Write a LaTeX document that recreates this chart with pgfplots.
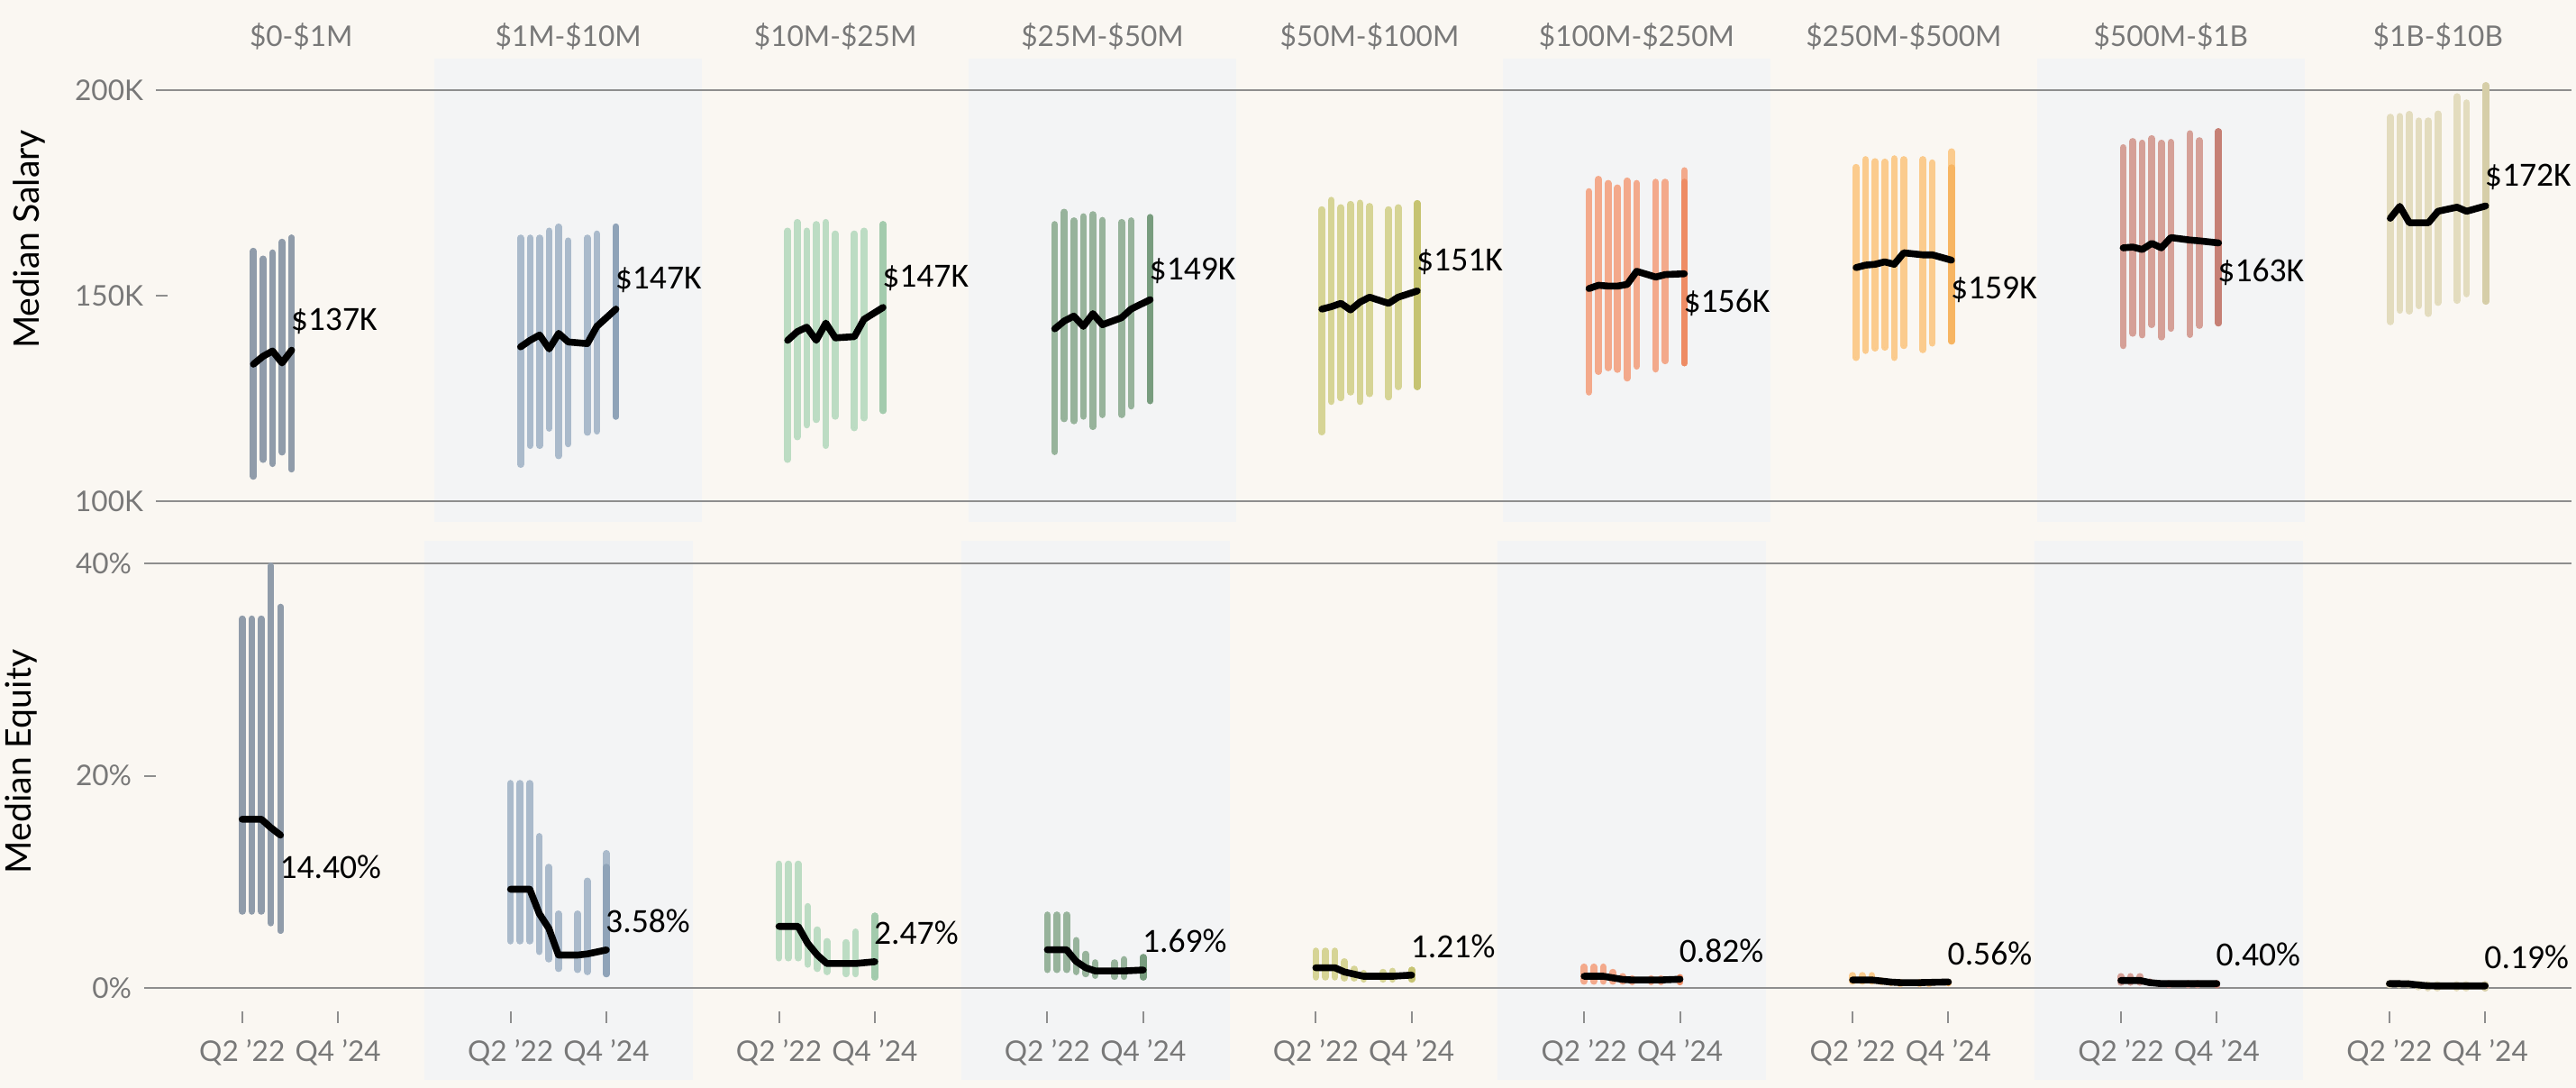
\documentclass[border=0pt]{standalone}
\usepackage{fontspec}
\setmainfont{Lato}
\newfontfamily\carl{Carlito}
\usepackage{pgfplots}
\usepackage{pgfplotstable}
\pgfplotsset{compat=1.18}

\definecolor{bgc}{HTML}{FAF7F2}
\definecolor{bandc}{HTML}{F3F4F5}
\definecolor{gridg}{HTML}{8E8E8E}
\definecolor{labg}{HTML}{787878}
\definecolor{cA}{HTML}{909CAA}
\definecolor{cB}{HTML}{AABACB}\definecolor{dB}{HTML}{8FA3B8}
\definecolor{cC}{HTML}{BCDCC3}\definecolor{dC}{HTML}{A3CBAD}
\definecolor{cD}{HTML}{97B39B}\definecolor{dD}{HTML}{789C7E}
\definecolor{cE}{HTML}{D6D495}\definecolor{dE}{HTML}{C6C371}
\definecolor{cF}{HTML}{F3A98B}\definecolor{dF}{HTML}{EE8C64}
\definecolor{cG}{HTML}{FBCB8D}\definecolor{dG}{HTML}{F7B562}
\definecolor{cH}{HTML}{D5A097}\definecolor{dH}{HTML}{C68075}
\definecolor{cI}{HTML}{E3DCBE}\definecolor{dI}{HTML}{D6CEA8}

% ---------- Median salary (K) : quarter, low, high, median ----------
\pgfplotstableread{
q lo hi med
0 105.3 161.7 133.4
1 109.4 159.8 135.3
2 108.4 161.3 136.6
3 111.2 163.9 133.7
4 107.1 164.9 136.8
}\sA
\pgfplotstableread{
q lo hi med
0 108.2 164.9 137.6
1 112.8 164.9 139.2
2 112.8 164.9 140.5
3 117.0 166.6 137.1
4 110.3 167.6 140.9
5 113.2 164.2 138.8
7 116.0 164.9 138.4
8 116.3 165.9 142.6
10 119.9 167.6 146.8
}\sB
\pgfplotstableread{
q lo hi med
0 109.4 166.6 139.2
1 114.9 168.7 141.3
2 117.8 166.6 142.4
3 119.1 168.2 139.2
4 112.8 168.7 143.4
5 119.9 165.9 139.8
7 117.1 165.9 140.1
8 119.5 166.6 144.3
10 121.3 168.2 147.2
}\sC
\pgfplotstableread{
q lo hi med
0 111.3 168.2 142.0
1 119.3 171.2 143.9
2 118.8 169.1 145.1
3 119.9 170.1 142.6
4 117.4 170.6 145.7
5 120.3 169.2 143.0
7 120.3 168.7 144.7
8 122.4 169.1 146.8
10 123.7 169.9 149.1
}\sD
\pgfplotstableread{
q lo hi med
0 116.1 171.8 146.8
1 123.5 174.1 147.4
2 124.4 172.3 148.2
3 125.8 173.1 146.6
4 123.5 173.4 148.5
5 125.4 172.6 149.7
7 124.6 171.8 148.2
8 127.1 172.3 149.7
10 127.1 173.3 151.2
}\sE
\pgfplotstableread{
q lo hi med
0 125.8 176.2 151.8
1 130.8 179.2 152.6
2 131.7 178.2 152.4
3 131.3 177.1 152.4
4 129.2 178.8 152.8
5 132.1 178.2 156.0
7 131.4 178.5 154.6
8 133.4 178.5 155.2
10 132.9 181.3 155.4
}\sF
\pgfplotstableread{
q lo hi med
0 134.2 182.1 156.9
1 135.9 184.0 157.5
2 136.5 183.5 157.7
3 136.7 183.4 158.3
4 134.2 184.2 157.7
5 137.1 184.0 160.5
7 136.1 184.0 160.0
8 137.7 183.2 160.0
10 138.2 185.9 158.7
}\sG
\pgfplotstableread{
q lo hi med
0 137.1 186.9 161.7
1 140.1 188.4 161.9
2 139.7 188.0 161.3
3 142.2 189.1 162.8
4 139.2 188.0 161.7
5 141.3 188.2 164.2
7 139.8 190.3 163.6
8 142.0 188.6 163.4
10 142.6 190.8 162.9
}\sH
\pgfplotstableread{
q lo hi med
0 142.9 194.3 168.9
1 145.7 194.5 171.8
2 145.5 195.0 167.8
3 146.8 193.4 167.8
4 144.9 193.4 167.8
5 147.6 195.1 170.6
7 148.1 199.3 171.6
8 149.7 197.8 170.6
10 147.9 202.0 171.9
}\sI

% ---------- Median equity (%) ----------
\pgfplotstableread{
q lo hi med
0 6.9 35.1 15.9
1 6.9 35.1 15.9
2 6.9 35.1 15.9
3 5.8 40.1 15.1
4 5.1 36.2 14.4
}\eA
\pgfplotstableread{
q lo hi med
0 4.1 19.6 9.3
1 4.1 19.6 9.3
2 4.1 19.6 9.3
3 3.1 14.6 7.0
4 2.4 11.7 5.6
5 1.5 7.3 3.1
7 1.4 7.3 3.1
8 1.2 10.4 3.2
10 1.0 13.0 3.58
}\eB
\pgfplotstableread{
q lo hi med
0 2.5 12.0 5.8
1 2.5 12.0 5.8
2 2.5 12.0 5.8
3 1.9 8.0 4.2
4 1.5 5.8 3.1
5 1.2 4.7 2.3
7 1.0 4.6 2.3
8 1.0 5.6 2.3
10 0.7 7.1 2.47
}\eC
\pgfplotstableread{
q lo hi med
0 1.4 7.2 3.6
1 1.4 7.2 3.6
2 1.4 7.2 3.6
3 1.2 4.8 2.5
4 1.0 3.5 1.9
5 0.85 2.7 1.6
7 0.75 2.7 1.6
8 0.75 3.0 1.6
10 0.7 3.2 1.69
}\eD
\pgfplotstableread{
q lo hi med
0 0.7 3.8 1.9
1 0.7 3.8 1.9
2 0.7 3.8 1.9
3 0.6 2.8 1.5
4 0.6 2.1 1.3
5 0.5 1.7 1.1
7 0.5 1.8 1.1
8 0.5 1.9 1.1
10 0.5 2.0 1.21
}\eE
\pgfplotstableread{
q lo hi med
0 0.3 2.3 1.1
1 0.3 2.3 1.1
2 0.3 2.3 1.1
3 0.3 1.8 0.95
4 0.3 1.4 0.8
5 0.25 1.2 0.75
7 0.25 1.2 0.75
8 0.25 1.2 0.75
10 0.25 1.3 0.82
}\eF
\pgfplotstableread{
q lo hi med
0 0.3 1.5 0.75
1 0.3 1.5 0.75
2 0.3 1.5 0.75
3 0.25 1.0 0.65
4 0.2 0.8 0.55
5 0.2 0.7 0.5
7 0.2 0.7 0.5
8 0.2 0.7 0.52
10 0.2 0.8 0.56
}\eG
\pgfplotstableread{
q lo hi med
0 0.2 1.4 0.7
1 0.2 1.4 0.7
2 0.2 1.4 0.7
3 0.15 0.9 0.5
4 0.1 0.7 0.42
5 0.1 0.6 0.4
7 0.1 0.6 0.4
8 0.1 0.6 0.4
10 0.1 0.6 0.40
}\eH
\pgfplotstableread{
q lo hi med
0 0.1 0.6 0.4
1 0.1 0.6 0.4
2 0.1 0.6 0.38
3 0.05 0.4 0.28
4 0.0 0.3 0.2
5 0.0 0.3 0.19
7 0.0 0.3 0.19
8 0.0 0.3 0.19
10 0.0 0.3 0.19
}\eI

% #1 table, #2 x offset, #3 bar colour, #4 last-bar colour, #5 last q, #6/#7 last-bar range, #8 cap correction
\newcommand{\panel}[8]{%
 \addplot[only marks, mark=*, mark size=0pt, mark options={draw=none, fill=none}, forget plot,
   error bars/.cd, y dir=plus, y explicit, error mark=none,
   error bar style={line width=1.9pt, line cap=round, draw=#3}]
   table[x expr=\thisrow{q}+#2, y expr=\thisrow{lo}+#8, y error expr=\thisrow{hi}-\thisrow{lo}-2*#8] {#1};
 \addplot[draw=#4, line width=1.9pt, line cap=round, forget plot]
   table[row sep=\\, x expr=\thisrow{q}+#2, y expr=\thisrow{v}+\thisrow{s}*#8] {q v s\\ #5 #6 1\\ #5 #7 -1\\};
 \addplot[black, line width=1.9pt, line join=round, line cap=round, forget plot]
   table[x expr=\thisrow{q}+#2, y=med] {#1};
}

\pgfplotsset{
 panel/.style={
   scale only axis, anchor=south west,
   xmin=-9, xmax=243,
   axis line style={draw=none},
   clip=false,
   tick align=outside,
   ytick pos=left,
   major tick length=3.2pt,
   tick style={draw=gridg, line width=0.5pt},
   tick label style={font=\fontsize{7.9}{9}\selectfont, text=labg},
   major grid style={draw=gridg, line width=0.55pt},
 },
}
\tikzset{
 vlab/.style={font=\carl\fontsize{9.4}{11}\selectfont, anchor=west, inner sep=0pt, xshift=-0.4pt, text=black},
 hlab/.style={font=\fontsize{7.9}{9}\selectfont, text=labg, anchor=base, yshift=3.45pt},
}

\begin{document}
\begin{tikzpicture}
\fill[bgc] (0,0) rectangle (714.75pt,301.75pt);
\foreach \k in {1,3,5,7} {
  \fill[bandc] ({46.5pt+\k*74.111pt},157pt) rectangle ({46.5pt+(\k+1)*74.111pt},285.5pt);
  \fill[bandc] ({43.25pt+\k*74.472pt},2.25pt) rectangle ({43.25pt+(\k+1)*74.472pt},151.75pt);
}

% ===== Median Salary =====
\begin{axis}[panel, at={(46.5pt,157pt)}, width=667pt, height=128.5pt,
  ymin=95.02, ymax=207.76,
  ytick={100,150,200}, yticklabels={100K,150K,200K},
  xtick=\empty,
  extra y ticks={100,200}, extra y tick labels={},
  extra y tick style={grid=major, major tick length=0pt}]
\panel{\sA}{0}{cA}{cA}{4}{107.1}{164.9}{0.8}
\panel{\sB}{28}{cB}{dB}{10}{119.9}{167.6}{0.8}
\panel{\sC}{56}{cC}{dC}{10}{121.3}{168.2}{0.8}
\panel{\sD}{84}{cD}{dD}{10}{123.7}{169.9}{0.8}
\panel{\sE}{112}{cE}{dE}{10}{127.1}{173.3}{0.8}
\panel{\sF}{140}{cF}{dF}{10}{132.9}{178.5}{0.8}
\panel{\sG}{168}{cG}{dG}{10}{138.2}{182.0}{0.8}
\panel{\sH}{196}{cH}{dH}{10}{142.6}{190.8}{0.8}
\panel{\sI}{224}{cI}{dI}{10}{147.9}{202.0}{0.8}
\node[vlab, yshift=8.1pt] at (axis cs:4,136.8) {\$137K};
\node[vlab, yshift=8.1pt] at (axis cs:38,146.8) {\$147K};
\node[vlab, yshift=8.1pt] at (axis cs:66,147.2) {\$147K};
\node[vlab, yshift=8.1pt] at (axis cs:94,149.1) {\$149K};
\node[vlab, yshift=8.1pt] at (axis cs:122,151.2) {\$151K};
\node[vlab, yshift=-8.1pt] at (axis cs:150,155.4) {\$156K};
\node[vlab, yshift=-8.1pt] at (axis cs:178,158.7) {\$159K};
\node[vlab, yshift=-8.1pt] at (axis cs:206,162.9) {\$163K};
\node[vlab, yshift=8.1pt] at (axis cs:234,171.9) {\$172K};
\node[hlab] at (axis cs:5,207.76) {\$0-\$1M};
\node[hlab] at (axis cs:33,207.76) {\$1M-\$10M};
\node[hlab] at (axis cs:61,207.76) {\$10M-\$25M};
\node[hlab] at (axis cs:89,207.76) {\$25M-\$50M};
\node[hlab] at (axis cs:117,207.76) {\$50M-\$100M};
\node[hlab] at (axis cs:145,207.76) {\$100M-\$250M};
\node[hlab] at (axis cs:173,207.76) {\$250M-\$500M};
\node[hlab] at (axis cs:201,207.76) {\$500M-\$1B};
\node[hlab] at (axis cs:229,207.76) {\$1B-\$10B};
\end{axis}

% ===== Median Equity =====
\begin{axis}[panel, at={(43.25pt,21.25pt)}, width=670.25pt, height=130.5pt,
  ymin=-2.21, ymax=42.14,
  ytick={0,20,40}, yticklabels={0\%,20\%,40\%},
  xtick={0,10,28,38,56,66,84,94,112,122,140,150,168,178,196,206,224,234},
  xticklabels={Q2 '22,Q4 '24,Q2 '22,Q4 '24,Q2 '22,Q4 '24,Q2 '22,Q4 '24,Q2 '22,Q4 '24,Q2 '22,Q4 '24,Q2 '22,Q4 '24,Q2 '22,Q4 '24,Q2 '22,Q4 '24},
  xtick pos=bottom,
  xticklabel style={yshift=-1pt},
  extra y ticks={0,40}, extra y tick labels={},
  extra y tick style={grid=major, major tick length=0pt}]
\panel{\eA}{0}{cA}{cA}{4}{5.1}{36.2}{0.32}
\panel{\eB}{28}{cB}{dB}{10}{1.0}{11.7}{0.32}
\panel{\eC}{56}{cC}{dC}{10}{0.7}{7.1}{0.32}
\panel{\eD}{84}{cD}{dD}{10}{0.7}{3.2}{0.32}
\panel{\eE}{112}{cE}{dE}{10}{0.5}{2.0}{0.32}
\panel{\eF}{140}{cF}{dF}{10}{0.25}{1.3}{0.32}
\panel{\eG}{168}{cG}{dG}{10}{0.2}{0.8}{0.32}
\panel{\eH}{196}{cH}{dH}{10}{0.1}{0.6}{0.32}
\panel{\eI}{224}{cI}{dI}{10}{0.0}{0.3}{0.32}
\node[vlab, yshift=-8.8pt] at (axis cs:4,14.4) {14.40\%};
\node[vlab, yshift=8pt] at (axis cs:38,3.58) {3.58\%};
\node[vlab, yshift=8pt] at (axis cs:66,2.47) {2.47\%};
\node[vlab, yshift=8pt] at (axis cs:94,1.69) {1.69\%};
\node[vlab, yshift=8pt] at (axis cs:122,1.21) {1.21\%};
\node[vlab, yshift=8pt] at (axis cs:150,0.82) {0.82\%};
\node[vlab, yshift=8pt] at (axis cs:178,0.56) {0.56\%};
\node[vlab, yshift=8pt] at (axis cs:206,0.40) {0.40\%};
\node[vlab, yshift=8pt] at (axis cs:234,0.19) {0.19\%};
\end{axis}

\node[rotate=90, font=\fontsize{9.8}{12}\selectfont] at (8.1pt,235.4pt) {Median Salary};
\node[rotate=90, font=\fontsize{9.8}{12}\selectfont] at (5.9pt,90.5pt) {Median Equity};

\pgfresetboundingbox
\useasboundingbox (0,0) rectangle (714.75pt,301.75pt);
\end{tikzpicture}
\end{document}
